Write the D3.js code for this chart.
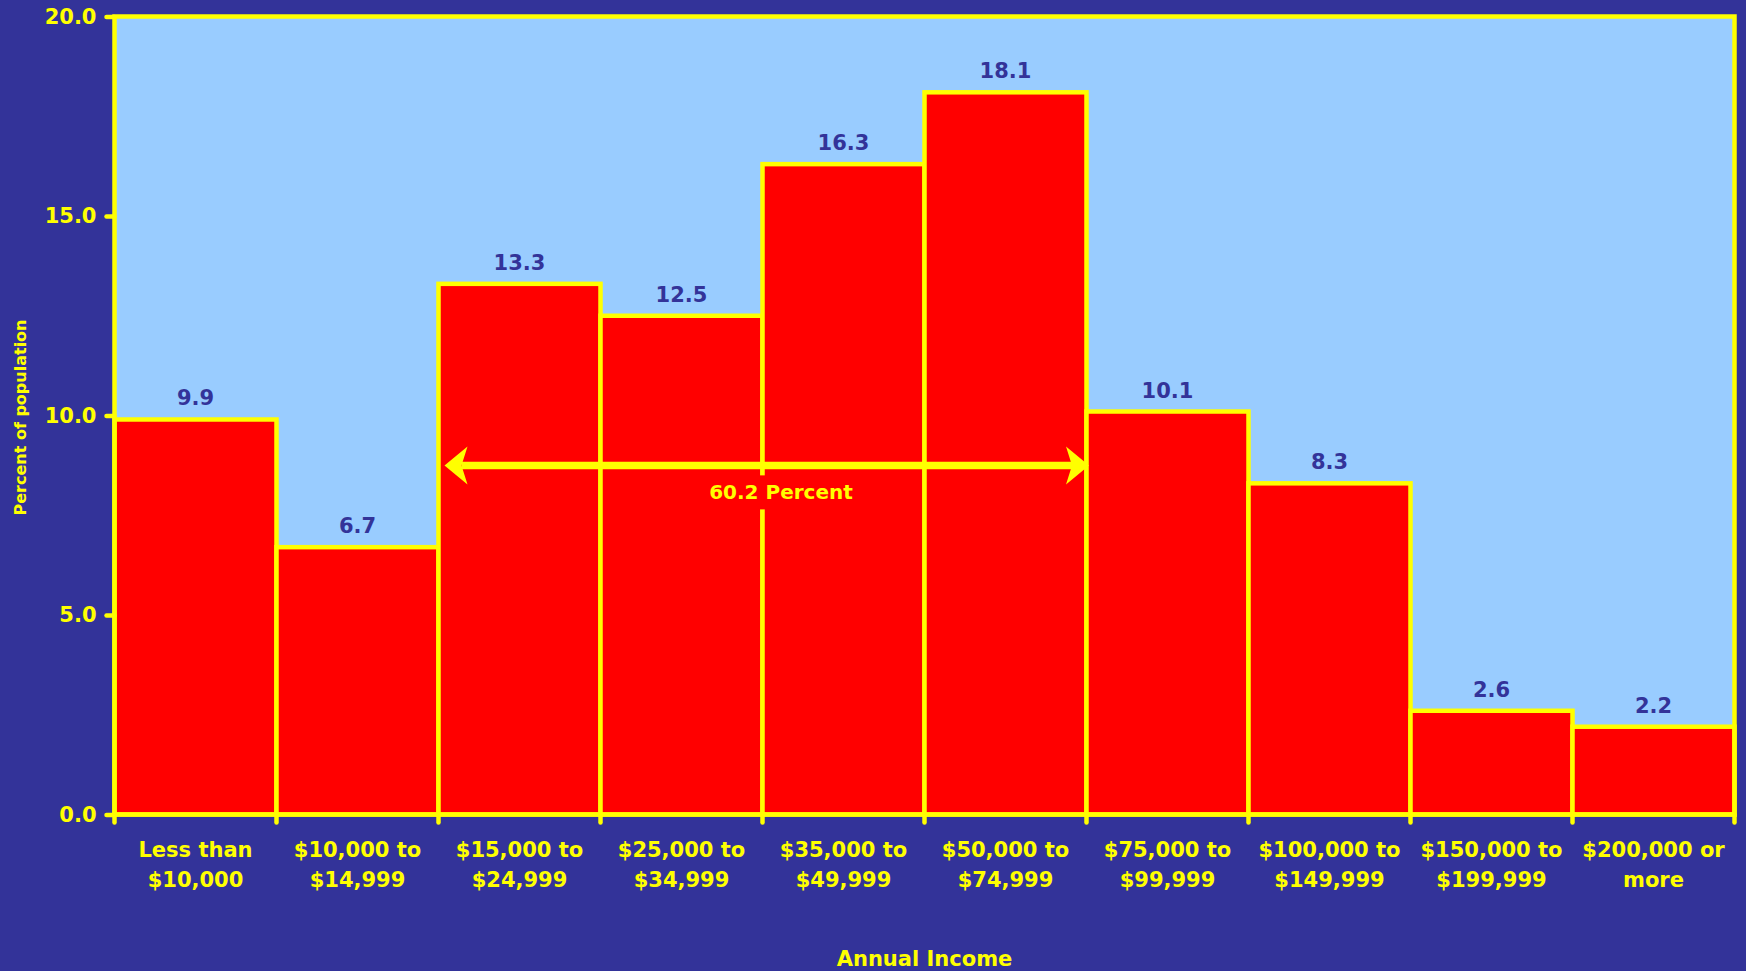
<!DOCTYPE html>
<html>
<head>
<meta charset="utf-8">
<script src="https://cdn.jsdelivr.net/npm/d3@7"></script>
<style>
  html, body { margin: 0; padding: 0; background: #333399; }
  svg { display: block; }
  text { font-family: "DejaVu Sans", Verdana, sans-serif; font-weight: bold; }
</style>
</head>
<body>
<svg id="chart" width="1746" height="971"></svg>
<script>
// ---- data ----
const categories = [
  ["Less than", "$10,000"],
  ["$10,000 to", "$14,999"],
  ["$15,000 to", "$24,999"],
  ["$25,000 to", "$34,999"],
  ["$35,000 to", "$49,999"],
  ["$50,000 to", "$74,999"],
  ["$75,000 to", "$99,999"],
  ["$100,000 to", "$149,999"],
  ["$150,000 to", "$199,999"],
  ["$200,000 or", "more"]
];
const values = [9.9, 6.7, 13.3, 12.5, 16.3, 18.1, 10.1, 8.3, 2.6, 2.2];
const yTicks = [0, 5, 10, 15, 20];
const highlightRange = [2, 5];      // bars covered by the arrow
const arrowLevel = 8.75;            // arrow height, in percent
const yTitle = "Percent of population";
const xTitle = "Annual Income";

// ---- layout ----
const YELLOW = "#FFFF00", NAVY = "#333399", SKY = "#99CCFF", RED = "#FF0000";
const margin = { left: 114.5, right: 1746 - 1734.5, top: 16.5, bottom: 971 - 814.5 };
const W = 1746, H = 971;
const svg = d3.select("#chart");
svg.append("rect").attr("width", W).attr("height", H).attr("fill", NAVY);

const keys = categories.map((c, i) => i);
const x = d3.scaleBand().domain(keys).range([margin.left, W - margin.right]).padding(0);
const y = d3.scaleLinear().domain([0, 20]).range([H - margin.bottom, margin.top]);
const bw = x.bandwidth();

// plot background
svg.append("rect")
  .attr("x", x.range()[0]).attr("y", y(20))
  .attr("width", x.range()[1] - x.range()[0]).attr("height", y(0) - y(20))
  .attr("fill", SKY);

// bars
svg.append("g").selectAll("rect").data(values).join("rect")
  .attr("x", (d, i) => x(i))
  .attr("y", d => y(d))
  .attr("width", bw)
  .attr("height", d => y(0) - y(d))
  .attr("fill", RED)
  .attr("stroke", YELLOW)
  .attr("stroke-width", 4.5);

// frame
svg.append("rect")
  .attr("x", x.range()[0]).attr("y", y(20))
  .attr("width", x.range()[1] - x.range()[0]).attr("height", y(0) - y(20))
  .attr("fill", "none").attr("stroke", YELLOW).attr("stroke-width", 4.5);

// y axis
const yAxis = d3.axisLeft(y).tickValues(yTicks).tickFormat(d3.format(".1f")).tickSize(8).tickPadding(10);
const gy = svg.append("g").attr("transform", `translate(${margin.left},0)`).call(yAxis);
gy.select(".domain").remove();
gy.selectAll(".tick line").attr("stroke", YELLOW).attr("stroke-width", 4.5).attr("stroke-linecap", "round");
gy.selectAll(".tick text").attr("fill", YELLOW)
  .style("font-family", '"DejaVu Sans", Verdana, sans-serif').style("font-weight", "bold").style("font-size", "21px");

// x boundary ticks
const boundaries = keys.map(i => x(i)).concat([x.range()[1]]);
svg.append("g").selectAll("line").data(boundaries).join("line")
  .attr("x1", d => d).attr("x2", d => d)
  .attr("y1", y(0)).attr("y2", y(0) + 8)
  .attr("stroke", YELLOW).attr("stroke-width", 4.5).attr("stroke-linecap", "round");

// category labels
const cl = svg.append("g").selectAll("text").data(categories).join("text")
  .attr("x", (d, i) => x(i) + bw / 2)
  .attr("y", 857)
  .attr("text-anchor", "middle")
  .attr("fill", YELLOW)
  .style("font-size", "21px");
cl.selectAll("tspan").data(d => d).join("tspan")
  .attr("x", function () { return d3.select(this.parentNode).attr("x"); })
  .attr("dy", (d, j) => j === 0 ? 0 : 30)
  .text(d => d);

// value labels
svg.append("g").selectAll("text").data(values).join("text")
  .attr("x", (d, i) => x(i) + bw / 2)
  .attr("y", d => y(d) - 14)
  .attr("text-anchor", "middle")
  .attr("fill", NAVY)
  .style("font-size", "21px")
  .text(d => d3.format(".1f")(d));

// axis titles
svg.append("text")
  .attr("transform", `translate(20,${(y(0) + y(20)) / 2 + 2}) rotate(-90)`)
  .attr("text-anchor", "middle").attr("dominant-baseline", "central")
  .attr("fill", YELLOW).style("font-size", "16px")
  .text(yTitle);
svg.append("text")
  .attr("x", (x.range()[0] + x.range()[1]) / 2).attr("y", 966)
  .attr("text-anchor", "middle").attr("fill", YELLOW).style("font-size", "21px")
  .text(xTitle);

// arrow annotation
const ay = y(arrowLevel);
const ax1 = x(highlightRange[0]) + 6;
const ax2 = x(highlightRange[1]) + bw + 2.5;
const headL = 23, headH = 19, notch = 6;
svg.append("line")
  .attr("x1", ax1 + headL - notch).attr("x2", ax2 - headL + notch)
  .attr("y1", ay).attr("y2", ay)
  .attr("stroke", YELLOW).attr("stroke-width", 7.5);
svg.append("path")
  .attr("d", `M${ax1},${ay} L${ax1 + headL},${ay - headH} L${ax1 + headL - notch},${ay} L${ax1 + headL},${ay + headH} Z`)
  .attr("fill", YELLOW);
svg.append("path")
  .attr("d", `M${ax2},${ay} L${ax2 - headL},${ay - headH} L${ax2 - headL + notch},${ay} L${ax2 - headL},${ay + headH} Z`)
  .attr("fill", YELLOW);

const total = d3.sum(values.slice(highlightRange[0], highlightRange[1] + 1));
const lx = x(highlightRange[0] + 2) + 18.5;
const lbl = svg.append("text")
  .attr("x", lx).attr("y", ay + 34)
  .attr("text-anchor", "middle").attr("fill", YELLOW).style("font-size", "20px")
  .text(d3.format(".1f")(total) + " Percent");
const bb = lbl.node().getBBox();
svg.insert("rect", function () { return lbl.node(); })
  .attr("x", bb.x - 6).attr("y", ay + 10)
  .attr("width", bb.width + 12).attr("height", 34)
  .attr("fill", RED);
</script>
</body>
</html>
